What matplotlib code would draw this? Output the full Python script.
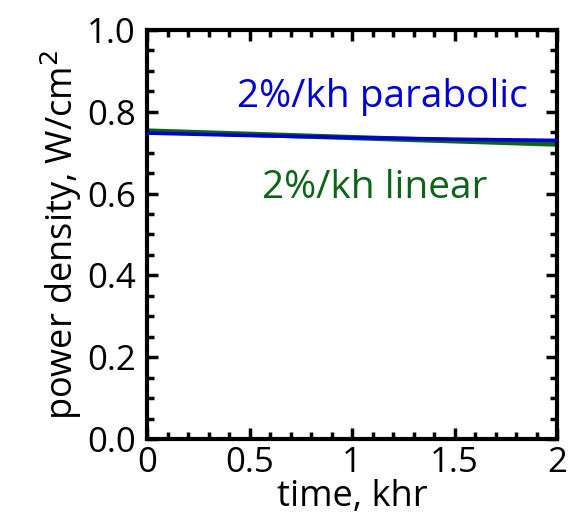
import matplotlib
matplotlib.use("Agg")
import matplotlib.pyplot as plt
from matplotlib.ticker import MultipleLocator

# Power density vs. time for two degradation models (2%/kh)
time_khr = [0.0, 0.5, 1.0, 1.5, 2.0]
parabolic = [0.748, 0.742, 0.737, 0.733, 0.730]
linear = [0.753, 0.745, 0.737, 0.729, 0.721]

plt.rcParams['font.family'] = ['Open Sans', 'DejaVu Sans']

fig = plt.figure(figsize=(5.86, 5.21), dpi=100)
ax = fig.add_axes([147 / 586, 1 - 439 / 521, 410 / 586, 409 / 521])

ax.plot(time_khr, parabolic, color='#0000d0', lw=2.6, zorder=3)
ax.plot(time_khr, linear, color='#0b6418', lw=3.8, zorder=2)

ax.set_xlim(0, 2)
ax.set_ylim(0, 1.0)
ax.xaxis.set_minor_locator(MultipleLocator(0.1))
ax.yaxis.set_minor_locator(MultipleLocator(0.05))
ax.set_xticks([0, 0.5, 1, 1.5, 2])
ax.set_xticklabels(['0', '0.5', '1', '1.5', '2'])
ax.set_yticks([0, 0.2, 0.4, 0.6, 0.8, 1.0])
ax.set_yticklabels(['0.0', '0.2', '0.4', '0.6', '0.8', '1.0'])

ax.tick_params(which='both', direction='in', top=True, right=True, width=2.5,
               labelsize=25)
ax.tick_params(axis='x', pad=5)
ax.tick_params(axis='y', pad=8)
ax.tick_params(which='major', length=8)
ax.tick_params(which='minor', length=5)
for s in ax.spines.values():
    s.set_linewidth(3)

ax.set_xlabel('time, khr', fontsize=26, labelpad=-1)
ax.set_ylabel('power density, W/cm$^2$', fontsize=26, labelpad=2)

ax.text(0.929, 0.812, '2%/kh parabolic', transform=ax.transAxes, color='#0000d0',
        fontsize=28, ha='right', va='baseline')
ax.text(0.829, 0.589, '2%/kh linear', transform=ax.transAxes, color='#0b6418',
        fontsize=28, ha='right', va='baseline')

fig.savefig('out.png', dpi=100)
